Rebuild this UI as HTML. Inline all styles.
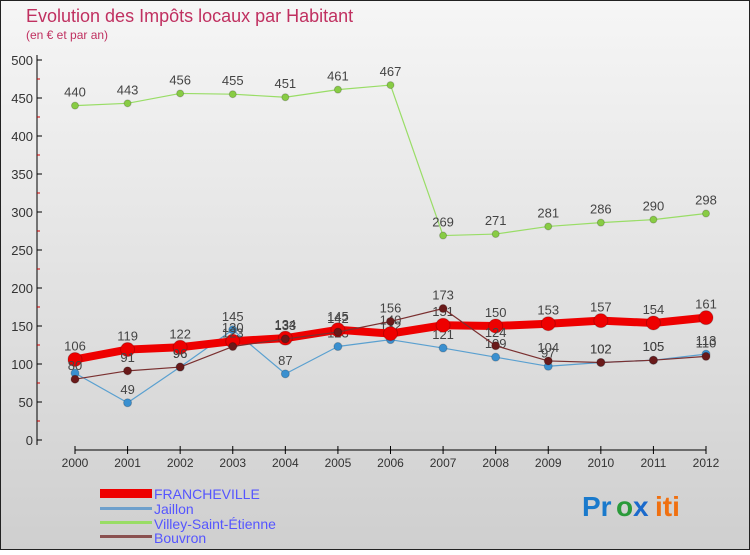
<!DOCTYPE html>
<html><head><meta charset="utf-8"><style>
body{margin:0;width:750px;height:550px;overflow:hidden;font-family:"Liberation Sans",sans-serif}
svg text{font-family:"Liberation Sans",sans-serif}
</style></head><body>
<svg id="chart" width="750" height="550" xmlns="http://www.w3.org/2000/svg">
<defs><linearGradient id="bg" x1="0" y1="0" x2="0" y2="1"><stop offset="0" stop-color="#f6f6f6"/><stop offset="1" stop-color="#cfcfcf"/></linearGradient></defs>
<rect x="0.5" y="0.5" width="749" height="549" fill="url(#bg)" stroke="#222"/>
<text x="26" y="22" font-size="18" fill="#c03060">Evolution des Impôts locaux par Habitant</text>
<text x="26" y="39" font-size="12" fill="#c03060">(en € et par an)</text>
<g id="axes"></g>
<g id="series"></g>
<g>
<rect x="100" y="489" width="52" height="9" fill="#e00"/>
<text x="154" y="499" font-size="14" fill="#55f">FRANCHEVILLE</text>
<rect x="100" y="507" width="52" height="3" fill="#6fa0cc"/>
<text x="154" y="514" font-size="14" fill="#55f">Jaillon</text>
<rect x="100" y="521" width="52" height="3" fill="#99dd66"/>
<text x="154" y="529" font-size="14" fill="#55f">Villey-Saint-Étienne</text>
<rect x="100" y="535" width="52" height="3" fill="#8a5050"/>
<text x="154" y="543" font-size="14" fill="#55f">Bouvron</text>
</g>
<g font-size="28" font-weight="bold">
<text x="582" y="516" fill="#1a7acc">Pr</text><text x="616" y="516" fill="#2a9a3a">o</text><text x="633" y="516" fill="#1a6acc">x</text><text x="655" y="516" fill="#f07010">iti</text>
</g>
</svg>
<script>
const years=["2000","2001","2002","2003","2004","2005","2006","2007","2008","2009","2010","2011","2012"];
const yTicks=[0,50,100,150,200,250,300,350,400,450,500];
const franche=[106,119,122,130,134,145,140,151,150,153,157,154,161];
const jaillon=[88,49,96,145,87,123,132,121,109,97,102,105,113];
const villey=[440,443,456,455,451,461,467,269,271,281,286,290,298];
const bouvron=[80,91,96,123,133,142,156,173,124,104,102,105,110];
const NS="http://www.w3.org/2000/svg";
const xs=i=>75+i*(706-75)/12;
const ys=v=>440-v*0.76;
function mk(tag,attrs,parent){const e=document.createElementNS(NS,tag);for(const k in attrs)e.setAttribute(k,attrs[k]);parent.appendChild(e);return e;}
const ax=document.getElementById('axes');
let l=mk('line',{x1:37,y1:55,x2:37,y2:445,stroke:'#000'},ax);


l=mk('line',{x1:75,y1:450,x2:706,y2:450,stroke:'#000'},ax);


yTicks.forEach(v=>{
 mk('line',{x1:37,y1:ys(v),x2:42,y2:ys(v),stroke:'#000'},ax);
 if(v<500) mk('line',{x1:37,y1:ys(v+25),x2:40,y2:ys(v+25),stroke:'#c00'},ax);
 const t=mk('text',{x:33,y:ys(v)+5,'font-size':13,'text-anchor':'end',fill:'#333'},ax);t.textContent=v;
 
 
});
years.forEach((y,i)=>{
 mk('line',{x1:xs(i),y1:446,x2:xs(i),y2:454,stroke:'#000'},ax);
 const t=mk('text',{x:xs(i),y:467,'font-size':12,'text-anchor':'middle',fill:'#333'},ax);t.textContent=y;
 
 
});
const sg=document.getElementById('series');
function series(vals,name,color,width,r,dot){
 const g=mk('g',{},sg);
 
 
 const p=mk('polyline',{points:vals.map((v,i)=>xs(i)+','+ys(v)).join(' '),fill:'none',stroke:color,'stroke-width':width,'stroke-linejoin':'round'},g);
 
 
 vals.forEach((v,i)=>{
  const c=mk('circle',{cx:xs(i),cy:ys(v),r:r,fill:dot,stroke:'rgba(0,0,0,0.2)'},g);
  
  
  const t=mk('text',{x:xs(i),y:ys(v)-9,'font-size':13,'text-anchor':'middle',fill:'#444'},g);t.textContent=v;
  
  
 });
}
series(villey,'villey','#99dd66',1.2,3.5,'#88cc44');
series(jaillon,'jaillon','#5aa0d0',1.2,4,'#3a90d0');
series(franche,'francheville','#ee0000',8,7,'#ee0000');
series(bouvron,'bouvron','#7a3030',1.2,4,'#6a1a1a');
</script>
</body></html>
